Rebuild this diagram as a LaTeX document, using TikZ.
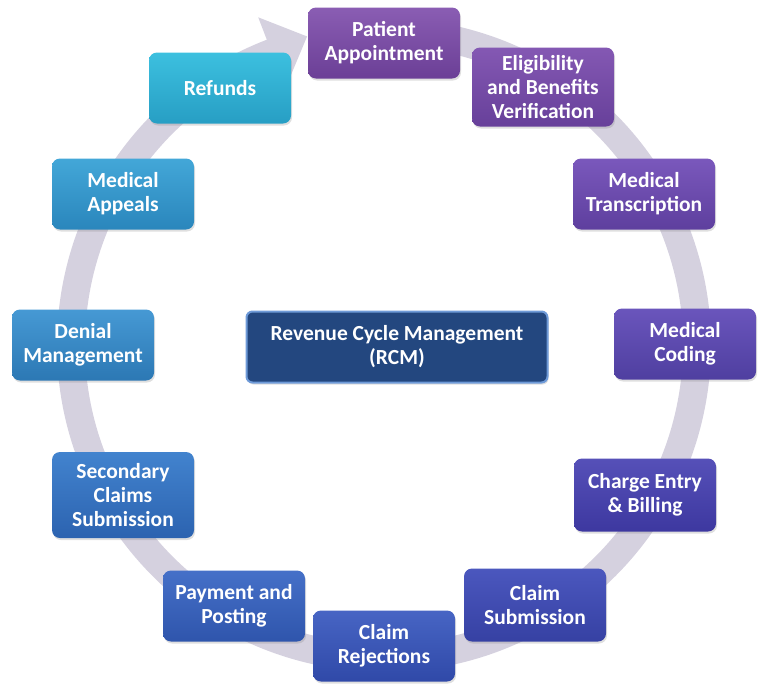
\documentclass[tikz,border=0pt]{standalone}
\usepackage{fontspec}
\setmainfont{Carlito}
\usetikzlibrary{calc,shadows}

\definecolor{band}{HTML}{D5D1DF}
\definecolor{rcmfill}{HTML}{23477F}
\definecolor{rcmline}{HTML}{6E9AD8}
\definecolor{patientA}{HTML}{8A5DB3}\definecolor{patientB}{HTML}{6B3F96}
\definecolor{eligA}{HTML}{8458B3}\definecolor{eligB}{HTML}{67409A}
\definecolor{transA}{HTML}{7A58BC}\definecolor{transB}{HTML}{5E3F9E}
\definecolor{codingA}{HTML}{6A55BC}\definecolor{codingB}{HTML}{4F3FA0}
\definecolor{chargeA}{HTML}{5650B8}\definecolor{chargeB}{HTML}{3D38A0}
\definecolor{submitA}{HTML}{4B57BE}\definecolor{submitB}{HTML}{3641A3}
\definecolor{rejectA}{HTML}{4765C4}\definecolor{rejectB}{HTML}{3049A8}
\definecolor{paymentA}{HTML}{4570C8}\definecolor{paymentB}{HTML}{2F55AC}
\definecolor{secondA}{HTML}{4283CE}\definecolor{secondB}{HTML}{2C63B0}
\definecolor{denialA}{HTML}{4699D4}\definecolor{denialB}{HTML}{2C78B4}
\definecolor{appealA}{HTML}{43A7D8}\definecolor{appealB}{HTML}{2A86BC}
\definecolor{refundA}{HTML}{3CC0DF}\definecolor{refundB}{HTML}{279EC4}

\tikzset{
	stage/.style={rounded corners=8pt, minimum width=142pt, minimum height=71pt,
		inner sep=0pt, align=center, text=white,
		font=\fontsize{21.5}{24}\selectfont\bfseries,
		drop shadow={opacity=0.25, shadow xshift=1pt, shadow yshift=-2pt}},
	shade stage/.style={top color=#1A, bottom color=#1B}
}

\begin{document}
\begin{tikzpicture}[x=1pt, y=-1pt]
			%%%%% START %%%%%
			
			\useasboundingbox (0, 0) rectangle (768, 694);
			\coordinate (hub) at (384, 345);
			
			% the cycle band and its head
			\draw[line width=28pt, color=band] ($(hub)+(-80:313)$) arc (-80:250:313);
			\fill[band] ($(hub)+(249:351)$) -- ($(hub)+(256:318)$) -- ($(hub)+(249:275)$) -- cycle;
			
			\node[stage, shade stage=patient, minimum width=152pt] (patient) at (384, 43) {Patient\\Appointment};
			\node[stage, shade stage=elig, minimum height=79pt] (eligibility) at (543, 87) {Eligibility\\and Benefits\\Verification};
			\node[stage, shade stage=trans] (transcription) at (644, 194) {Medical\\Transcription};
			\node[stage, shade stage=coding] (coding) at (685, 344) {Medical\\Coding};
			\node[stage, shade stage=charge, minimum height=73pt] (charge) at (645, 495) {Charge Entry\\\& Billing};
			\node[stage, shade stage=submit, minimum height=73pt] (submission) at (535, 605) {Claim\\Submission};
			\node[stage, shade stage=reject] (rejections) at (384, 646) {Claim\\Rejections};
			\node[stage, shade stage=payment] (payment) at (234, 606) {Payment and\\Posting};
			\node[stage, shade stage=second, minimum height=86pt] (secondary) at (123, 495) {Secondary\\Claims\\Submission};
			\node[stage, shade stage=denial] (denial) at (83, 345) {Denial\\Management};
			\node[stage, shade stage=appeal] (appeals) at (123, 194) {Medical\\Appeals};
			\node[stage, shade stage=refund] (refunds) at (220, 88) {Refunds};
			
			% centre
			\node[stage, fill=rcmfill, draw=rcmline, line width=2pt, minimum width=301pt, rounded corners=6pt] (rcm) at (397, 347) {Revenue Cycle Management\\(RCM)};
			
			%%%%% END %%%%%
		\end{tikzpicture}
\end{document}
